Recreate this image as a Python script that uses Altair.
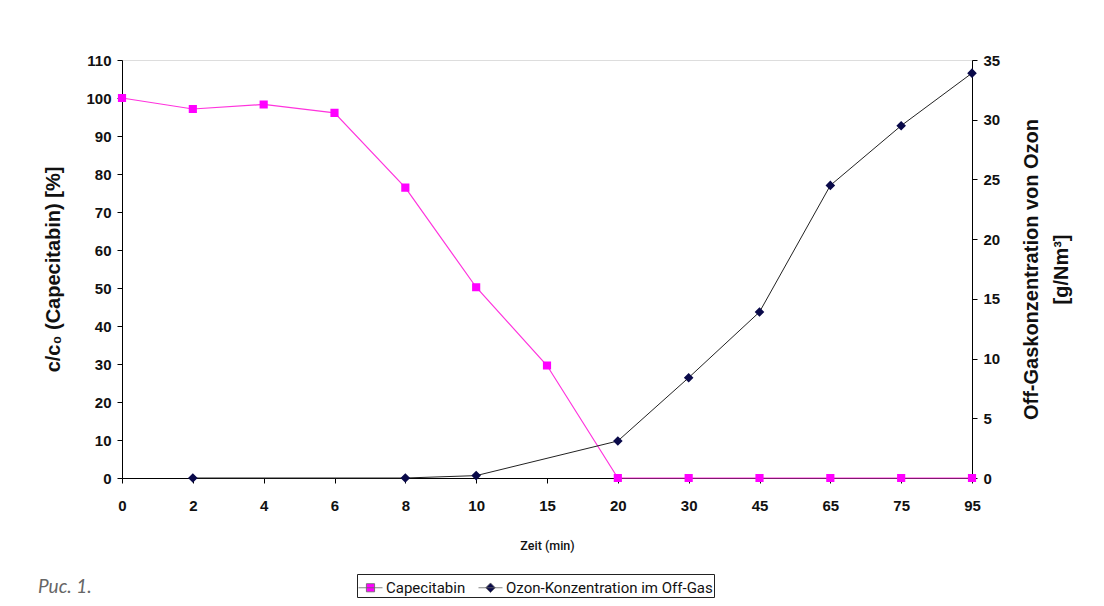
import altair as alt
import pandas as pd

times = ["0", "2", "4", "6", "8", "10", "15", "20", "30", "45", "65", "75", "95"]
capecitabin = [100.0, 97.1, 98.3, 96.1, 76.4, 50.2, 29.6, 0, 0, 0, 0, 0, 0]
ozon = [None, 0, None, None, 0, 0.2, None, 3.1, 8.4, 13.9, 24.5, 29.5, 33.9]
series = ["Capecitabin", "Ozon-Konzentration im Off-Gas"]
left_ticks = list(range(0, 111, 10))
right_ticks = list(range(0, 36, 5))

cap_df = pd.DataFrame({"t": times, "v": capecitabin, "s": series[0]})
oz_df = pd.DataFrame({"t": times, "v": ozon, "s": series[1]}).dropna()

FONT = "Liberation Sans"
NARROW = "Roboto"

# marker shapes with a short line through them (line only visible in legend)
SQUARE_PATH = "M-1,0H1M-0.34,-0.34H0.34V0.34H-0.34Z"
DIAMOND_PATH = "M-1,0H1M0,-0.4L0.4,0L0,0.4L-0.4,0Z"

x_enc = alt.X(
    "t:O", sort=times,
    scale=alt.Scale(type="point", padding=0),
    axis=alt.Axis(title="Zeit (min)", labelAngle=0, labelFont=FONT, labelFontSize=15,
                  labelFontWeight="bold", labelColor="#111", labelPadding=15,
                  titleFont=NARROW, titleFontSize=12.5, titleFontWeight=500,
                  titleColor="#111", titlePadding=26, tickSize=5, domainColor="#000",
                  tickColor="#000"),
)

color_scale = alt.Scale(domain=series, range=["#ff00ff", "#0a0a4a"])
shape_scale = alt.Scale(domain=series, range=[SQUARE_PATH, DIAMOND_PATH])
legend = alt.Legend(
    title=None, orient="none", legendX=235, legendY=514, direction="horizontal",
    strokeColor="#222", fillColor="#fff", padding=1, labelFont=NARROW,
    labelFontSize=15, labelColor="#111", symbolSize=576, columnPadding=10,
    labelOffset=3, labelLimit=400, symbolStrokeColor="#666", symbolStrokeWidth=0.8,
)

y_left = alt.Y("v:Q", scale=alt.Scale(domain=[0, 110], nice=False),
               axis=alt.Axis(title="c/c₀ (Capecitabin) [%]", values=left_ticks, orient="left",
                             labelFont=FONT, labelFontSize=15, labelFontWeight="bold",
                             labelColor="#111", labelPadding=6, tickSize=5,
                             titleFont=FONT, titleFontSize=20, titleFontWeight="bold",
                             titleColor="#111", titlePadding=22, domainColor="#000",
                             tickColor="#000", grid=False))
y_right = alt.Y("v:Q", scale=alt.Scale(domain=[0, 35], nice=False),
                axis=alt.Axis(title=["Off-Gaskonzentration von Ozon", "[g/Nm³]"],
                              values=right_ticks, orient="right", titleAngle=270,
                              labelFont=FONT, labelFontSize=15, labelFontWeight="bold",
                              labelColor="#111", labelPadding=6, tickSize=5,
                              titleFont=FONT, titleFontSize=20, titleFontWeight="bold",
                              titleColor="#111", titlePadding=12, domainColor="#000",
                              tickColor="#000", grid=False, titleLineHeight=30))

cap_line = alt.Chart(cap_df).mark_line(color="#ff33dd", strokeWidth=1.2).encode(x=x_enc, y=y_left)
cap_pts = alt.Chart(cap_df).mark_point(filled=True, size=576, opacity=1).encode(
    x=x_enc, y=y_left,
    color=alt.Color("s:N", scale=color_scale, legend=legend),
    shape=alt.Shape("s:N", scale=shape_scale, legend=legend),
)
oz_line = alt.Chart(oz_df).mark_line(color="#222", strokeWidth=1).encode(x=x_enc, y=y_right)
oz_pts = alt.Chart(oz_df).mark_point(filled=True, size=576, opacity=1).encode(
    x=x_enc, y=y_right,
    color=alt.Color("s:N", scale=color_scale, legend=legend),
    shape=alt.Shape("s:N", scale=shape_scale, legend=legend),
)

left = alt.layer(cap_line, cap_pts)
right = alt.layer(oz_line, oz_pts)

chart = alt.layer(left, right).resolve_scale(y="independent").properties(
    width=850, height=418,
    autosize=alt.AutoSizeParams(type="none"),
    padding={"left": 114, "top": 52, "right": 124, "bottom": 120},
    title=alt.TitleParams("Рис. 1.", orient="bottom", anchor="start", font="Lato",
                          fontSize=19, fontStyle="italic", fontWeight="normal",
                          color="#666", dx=-6, offset=-20),
).configure_view(stroke="#aaa", strokeWidth=1).configure(background="#ffffff")

chart.save("out.html", embed_options={"renderer": "svg", "actions": False})
